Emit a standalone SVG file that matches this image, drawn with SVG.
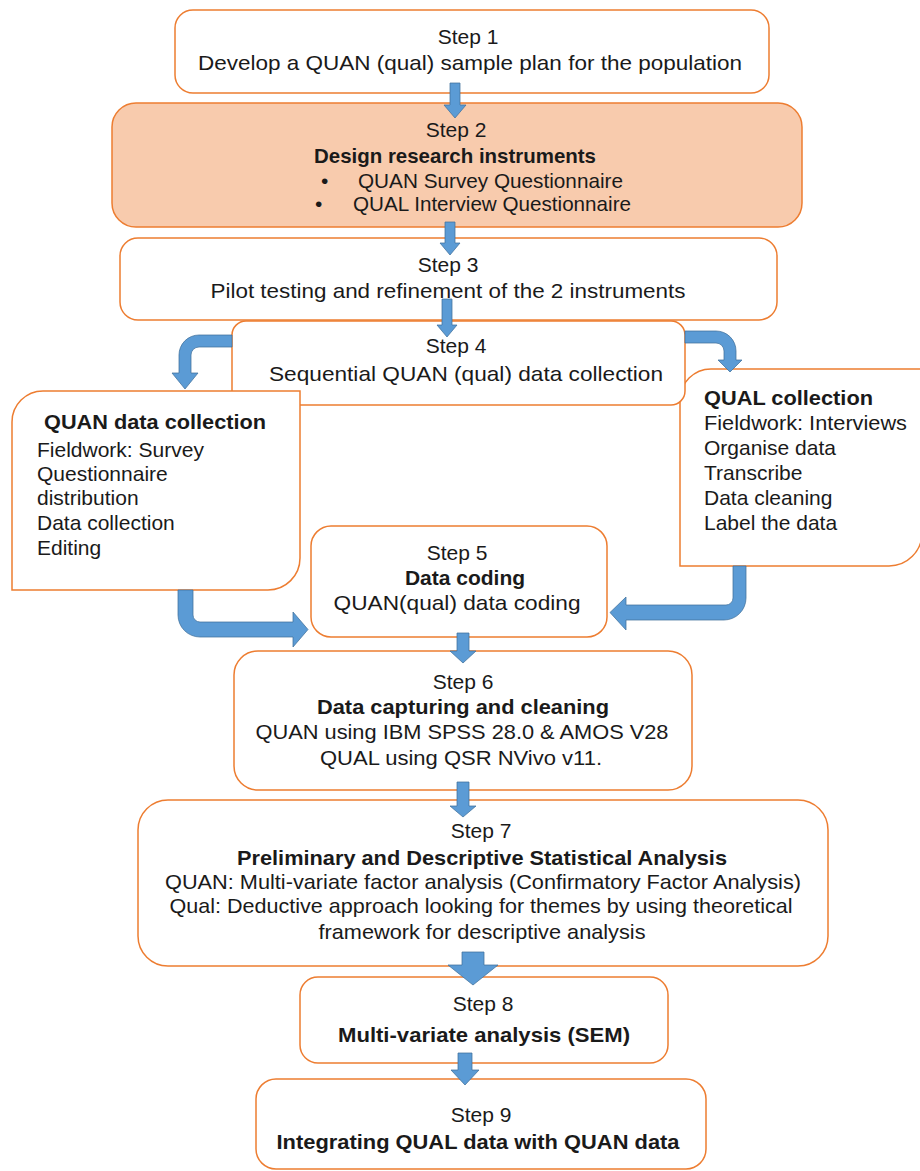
<svg xmlns="http://www.w3.org/2000/svg" width="920" height="1171" viewBox="0 0 920 1171">
<style>
.box{fill:#fff;stroke:#ED7D31;stroke-width:1.5}
.hl{fill:#F8CBAD}
.t{font-family:"Liberation Sans",Arial,sans-serif;font-size:21px;fill:#1a1a1a}
.c{text-anchor:middle}
.b{font-weight:bold}
.ar{fill:#5B9BD5;stroke:#41719C;stroke-width:0.75}
</style>
<rect width="920" height="1171" fill="#fff"/>
<g id="step1">
<rect class="box" x="175" y="10" width="594" height="83" rx="18"/>
<text class="t c" x="468" y="44">Step 1</text>
<text class="t c" x="470" y="70" textLength="544" lengthAdjust="spacingAndGlyphs">Develop a QUAN (qual) sample plan for the population</text>
</g>
<g id="step2">
<rect class="box hl" x="112" y="103" width="690" height="124" rx="24"/>
<text class="t c" x="456" y="137">Step 2</text>
<text class="t c b" x="455" y="163" textLength="282" lengthAdjust="spacingAndGlyphs">Design research instruments</text>
<text class="t" x="321" y="188">•</text>
<text class="t" x="358" y="188" textLength="265" lengthAdjust="spacingAndGlyphs">QUAN Survey Questionnaire</text>
<text class="t" x="315" y="211">•</text>
<text class="t" x="353" y="211" textLength="278" lengthAdjust="spacingAndGlyphs">QUAL Interview Questionnaire</text>
</g>
<g id="step3">
<rect class="box" x="120" y="238" width="657" height="82" rx="18"/>
<text class="t c" x="448" y="272">Step 3</text>
<text class="t c" x="448" y="298" textLength="475" lengthAdjust="spacingAndGlyphs">Pilot testing and refinement of the 2 instruments</text>
</g>
<g id="qual">
<path class="box" d="M680,566 L680,400 A31,31 0 0 1 711,369 L922,369 L922,533 A33,33 0 0 1 889,566 Z"/>
<text class="t b" x="704" y="405" textLength="169" lengthAdjust="spacingAndGlyphs">QUAL collection</text>
<text class="t" x="704" y="430" textLength="203" lengthAdjust="spacingAndGlyphs">Fieldwork: Interviews</text>
<text class="t" x="704" y="455">Organise data</text>
<text class="t" x="704" y="480">Transcribe</text>
<text class="t" x="704" y="505">Data cleaning</text>
<text class="t" x="704" y="530">Label the data</text>
</g>
<g id="step4">
<rect class="box" x="232" y="321" width="453" height="84" rx="14"/>
<text class="t c" x="456" y="353">Step 4</text>
<text class="t c" x="466" y="381" textLength="394" lengthAdjust="spacingAndGlyphs">Sequential QUAN (qual) data collection</text>
</g>
<g id="quan">
<path class="box" d="M12,590 L12,422 A31,31 0 0 1 43,391 L300,391 L300,558 A32,32 0 0 1 268,590 Z"/>
<text class="t b" x="44" y="429" textLength="222" lengthAdjust="spacingAndGlyphs">QUAN data collection</text>
<text class="t" x="37" y="457">Fieldwork: Survey</text>
<text class="t" x="37" y="481">Questionnaire</text>
<text class="t" x="37" y="505">distribution</text>
<text class="t" x="37" y="530">Data collection</text>
<text class="t" x="37" y="555">Editing</text>
</g>
<g id="step5">
<rect class="box" x="311" y="526" width="296" height="111" rx="20"/>
<text class="t c" x="457" y="560">Step 5</text>
<text class="t c b" x="465" y="585">Data coding</text>
<text class="t c" x="457" y="610" textLength="247" lengthAdjust="spacingAndGlyphs">QUAN(qual) data coding</text>
</g>
<g id="step6">
<rect class="box" x="234" y="651" width="458" height="139" rx="24"/>
<text class="t c" x="463" y="689">Step 6</text>
<text class="t c b" x="463" y="714" textLength="292" lengthAdjust="spacingAndGlyphs">Data capturing and cleaning</text>
<text class="t c" x="462" y="739" textLength="413" lengthAdjust="spacingAndGlyphs">QUAN using IBM SPSS 28.0 &amp; AMOS V28</text>
<text class="t c" x="461" y="765" textLength="282" lengthAdjust="spacingAndGlyphs">QUAL using QSR NVivo v11.</text>
</g>
<g id="step7">
<rect class="box" x="138" y="800" width="690" height="166" rx="30"/>
<text class="t c" x="481" y="838">Step 7</text>
<text class="t c b" x="482" y="865" textLength="490" lengthAdjust="spacingAndGlyphs">Preliminary and Descriptive Statistical Analysis</text>
<text class="t c" x="483" y="889" textLength="636" lengthAdjust="spacingAndGlyphs">QUAN: Multi-variate factor analysis (Confirmatory Factor Analysis)</text>
<text class="t c" x="481" y="913" textLength="623" lengthAdjust="spacingAndGlyphs">Qual: Deductive approach looking for themes by using theoretical</text>
<text class="t c" x="482" y="939" textLength="327" lengthAdjust="spacingAndGlyphs">framework for descriptive analysis</text>
</g>
<g id="step8">
<rect class="box" x="300" y="977" width="368" height="86" rx="18"/>
<text class="t c" x="483" y="1011">Step 8</text>
<text class="t c b" x="484" y="1042" textLength="292" lengthAdjust="spacingAndGlyphs">Multi-variate analysis (SEM)</text>
</g>
<g id="step9">
<rect class="box" x="256" y="1079" width="450" height="90" rx="20"/>
<text class="t c" x="481" y="1122">Step 9</text>
<text class="t c b" x="478" y="1149" textLength="403" lengthAdjust="spacingAndGlyphs">Integrating QUAL data with QUAN data</text>
</g>
<g id="connectors">
<path class="ar" d="M450,83 L460,83 L460,105 L466,105 L455,118 L444,105 L450,105 Z"/>
<path class="ar" d="M445,222 L455,222 L455,243 L460,243 L450,255 L440,243 L445,243 Z"/>
<path class="ar" d="M442,299 L452,299 L452,325 L457,325 L447,337 L437,325 L442,325 Z"/>
<path class="ar" d="M457,633 L469,633 L469,651 L476,651 L463,663 L450,651 L457,651 Z"/>
<path class="ar" d="M457,782 L469,782 L469,806 L476,806 L463,817 L450,806 L457,806 Z"/>
<path class="ar" d="M462,952 L484,952 L484,965 L498,965 L473,985 L448,965 L462,965 Z"/>
<path class="ar" d="M458,1053 L472,1053 L472,1070 L479,1070 L465,1085 L451,1070 L458,1070 Z"/>
<path class="ar" d="M232,335 L199,335 A20,20 0 0 0 179,355 L179,373 L172,373 L185,389 L198,373 L191,373 L191,355 A8,8 0 0 1 199,347 L232,347 Z"/>
<path class="ar" d="M685,331 L716,331 A20,20 0 0 1 736,351 L736,360 L742,360 L730,372 L718,360 L724,360 L724,351 A8,8 0 0 0 716,343 L685,343 Z"/>
<path class="ar" d="M178,590 L193,590 L193,615 A7,7 0 0 0 200,622 L293,622 L293,612 L308,629.5 L293,647 L293,637 L200,637 A22,22 0 0 1 178,615 Z"/>
<path class="ar" d="M733,566 L746,566 L746,598 A22,22 0 0 1 724,620 L626,620 L626,630 L610,612.5 L626,597 L626,605 L726,605 A7,7 0 0 0 733,598 Z"/>
</g>
</svg>
